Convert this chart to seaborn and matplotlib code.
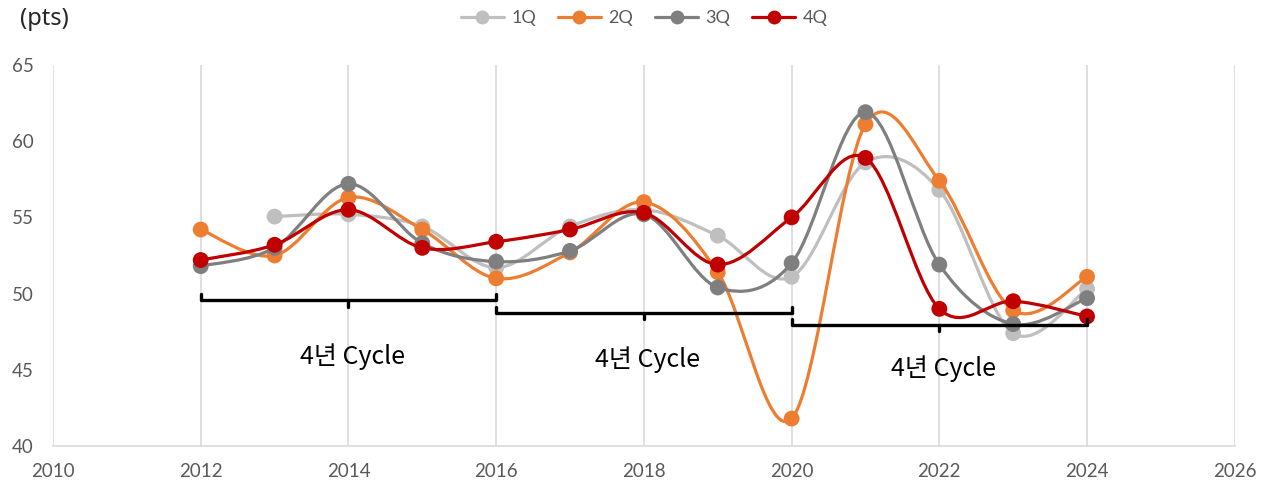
import numpy as np
import pandas as pd
import matplotlib
matplotlib.use("Agg")
import matplotlib.pyplot as plt
import seaborn as sns
from matplotlib.path import Path
from matplotlib.patches import PathPatch
from matplotlib.lines import Line2D

# ---- data ----
years = [2012, 2013, 2014, 2015, 2016, 2017, 2018, 2019, 2020, 2021, 2022, 2023, 2024]
q1 = [np.nan, 55.05, 55.2, 54.4, 51.7, 54.4, 55.5, 53.8, 51.1, 58.6, 56.8, 47.4, 50.3]
q2 = [54.2, 52.5, 56.3, 54.2, 51.0, 52.7, 56.0, 51.4, 41.8, 61.1, 57.4, 48.9, 51.1]
q3 = [51.8, 53.0, 57.2, 53.3, 52.1, 52.8, 55.2, 50.4, 52.0, 61.9, 51.9, 48.0, 49.7]
q4 = [52.2, 53.2, 55.5, 53.0, 53.4, 54.2, 55.3, 51.9, 55.0, 58.9, 49.0, 49.5, 48.5]
series_names = ["1Q", "2Q", "3Q", "4Q"]
colors = ["#BFBFBF", "#ED7D31", "#7F7F7F", "#C00000"]

# brackets: start, end, level and label height
cycle_start = [2012, 2016, 2020]
cycle_end = [2016, 2020, 2024]
cycle_level = [49.55, 48.75, 47.95]
cycle_label_y = [45.85, 45.7, 45.1]
cycle_label = "4년 Cycle"

xticks = [2010, 2012, 2014, 2016, 2018, 2020, 2022, 2024, 2026]
yticks = [40, 45, 50, 55, 60, 65]

df = pd.DataFrame({"year": years, "1Q": q1, "2Q": q2, "3Q": q3, "4Q": q4})
long = df.melt(id_vars="year", var_name="quarter", value_name="pts").dropna()


def smooth_path(x, y):
    # excel-style smoothed line: cubic bezier through every point
    pts = np.column_stack([x, y])
    n = len(pts)
    verts = [pts[0]]
    codes = [Path.MOVETO]
    for i in range(n - 1):
        p0 = pts[max(i - 1, 0)]
        p1 = pts[i]
        p2 = pts[i + 1]
        p3 = pts[min(i + 2, n - 1)]
        c1 = p1 + (p2 - p0) / 6.0
        c2 = p2 - (p3 - p1) / 6.0
        verts += [c1, c2, p2]
        codes += [Path.CURVE4] * 3
    return Path(verts, codes)


sns.set_style("white")
plt.rcParams["font.family"] = ["Lato", "Noto Sans CJK KR", "DejaVu Sans"]

fig = plt.figure(figsize=(12.68, 4.88), dpi=100)
ax = fig.add_axes([0.0418, 0.086, 0.932, 0.781])

for k, (name, col) in enumerate(zip(series_names, colors)):
    sub = long[long["quarter"] == name]
    patch = PathPatch(smooth_path(sub["year"].values, sub["pts"].values),
                      facecolor="none", edgecolor=col, lw=2.3, zorder=3 + k,
                      capstyle="round", joinstyle="round")
    ax.add_patch(patch)
    sns.scatterplot(data=sub, x="year", y="pts", color=col, s=130,
                    edgecolor="none", ax=ax, zorder=3.5 + k, legend=False)

# cycle brackets
for x0, x1, lv, ly in zip(cycle_start, cycle_end, cycle_level, cycle_label_y):
    xm = (x0 + x1) / 2
    ax.plot([x0, x0, x1, x1], [lv + 0.4, lv, lv, lv + 0.4], color="black",
            lw=2.4, zorder=10, solid_joinstyle="round")
    ax.plot([xm, xm], [lv, lv - 0.4], color="black", lw=2.4, zorder=10)
    ax.text(xm + 0.05, ly, cycle_label, ha="center", va="center", fontsize=18,
            fontweight="medium", color="black",
            family=["Noto Sans CJK KR", "DejaVu Sans"], zorder=11)

ax.set_xlim(2010, 2026)
ax.set_ylim(40, 65)
ax.set_xticks(xticks)
ax.set_yticks(yticks)
ax.set_xlabel("")
ax.set_ylabel("")
ax.grid(axis="x", color="#D9D9D9", lw=1.2)
ax.grid(axis="y", visible=False)
for s in ["top", "right", "left"]:
    ax.spines[s].set_visible(False)
ax.spines["bottom"].set_color("#D9D9D9")
ax.spines["bottom"].set_linewidth(1.2)
ax.tick_params(axis="both", length=0, labelsize=13.5, labelcolor="#595959")
ax.tick_params(axis="x", pad=12)
ax.tick_params(axis="y", pad=14)

fig.text(0.016, 0.962, "(pts)", fontsize=17, color="#262626", va="center", ha="left",
         family=["Noto Sans", "DejaVu Sans"])

handles = [Line2D([0], [0], color=c, lw=2.3, marker="o", markersize=10,
                  markeredgewidth=0) for c in colors]
fig.legend(handles, series_names, loc="center", bbox_to_anchor=(0.508, 0.963),
           ncol=4, frameon=False, fontsize=13, handlelength=2.4,
           columnspacing=1.2, handletextpad=0.4, labelcolor="#595959")

fig.savefig("out.png", dpi=100)
